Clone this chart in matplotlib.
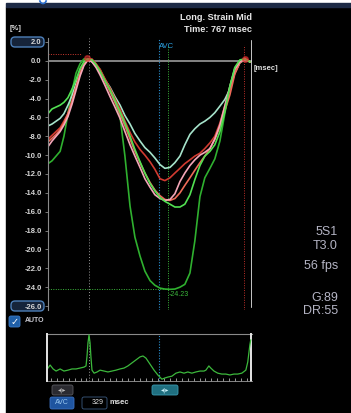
import numpy as np
import matplotlib
matplotlib.use('Agg')
import matplotlib.pyplot as plt
from matplotlib.patches import Rectangle, FancyBboxPatch, Arc
from matplotlib.transforms import IdentityTransform

plt.rcParams['font.family'] = ['Liberation Sans', 'DejaVu Sans']

W, H = 351, 413

# time grid (msec, R wave at 0)
t = [-193, -174, -155, -136, -118, -99, -80, -61, -42, -24, -5, 14, 33, 52,
     75, 99, 122, 146, 169, 193, 216, 240, 263, 287, 310, 334, 357, 381, 404,
     428, 451, 475, 498, 522, 545, 569, 592, 616, 639, 663, 686, 710, 733, 757]

# segment strain curves (%)
cyan = [-6.9, -6.7, -6.4, -6.1, -5.6, -4.7, -3.7, -2.4, -1.1, -0.3, 0.1, -0.1, -0.6, -1.2,
        -2.0, -2.8, -3.8, -4.7, -5.8, -6.7, -7.7, -8.5, -9.2, -9.7, -10.3, -11.0, -11.4, -11.3,
        -10.8, -10.1, -8.9, -7.8, -7.2, -6.7, -6.4, -6.0, -5.5, -4.8, -4.1, -3.0, -1.3, -0.2, 0.1, -0.1]
red = [-8.3, -7.9, -7.5, -7.1, -6.4, -5.6, -4.3, -2.8, -1.3, -0.3, 0.2, 0.2, -0.3, -0.9,
       -1.9, -2.9, -4.0, -5.1, -6.4, -7.6, -8.6, -9.4, -10.0, -10.7, -11.5, -12.5, -12.7, -12.4,
       -11.9, -11.4, -10.9, -10.5, -10.1, -9.8, -9.3, -8.7, -8.0, -6.6, -4.8, -3.0, -1.1, -0.1, 0.3, -0.1]
pink = [-9.1, -8.5, -8.0, -7.5, -6.8, -5.9, -4.6, -3.1, -1.6, -0.5, 0.1, -0.1, -0.7, -1.5,
        -2.6, -3.8, -4.9, -6.1, -7.5, -8.9, -10.1, -11.3, -12.5, -13.4, -14.2, -14.6, -14.8, -14.7,
        -14.1, -12.8, -11.9, -11.1, -10.5, -10.0, -9.7, -9.3, -8.3, -6.8, -4.8, -2.7, -0.9, -0.1, 0.2, -0.1]
salmon = [-8.6, -8.2, -7.8, -7.3, -6.6, -5.6, -4.3, -2.8, -1.4, -0.4, 0.1, 0.0, -0.5, -1.2,
          -2.2, -3.3, -4.4, -5.6, -6.9, -8.3, -9.6, -10.8, -11.9, -12.9, -13.7, -14.3, -14.7, -14.8,
          -14.6, -14.0, -13.2, -12.4, -11.6, -10.8, -10.1, -9.3, -8.3, -7.0, -5.3, -3.6, -1.4, -0.2, 0.2, -0.1]
lgreen = [-5.6, -5.1, -4.9, -4.7, -4.4, -3.9, -3.0, -2.0, -0.8, -0.1, 0.2, 0.1, -0.4, -1.1,
          -2.1, -3.1, -4.2, -5.4, -6.6, -8.0, -9.4, -10.7, -11.9, -13.0, -13.8, -14.5, -14.9, -15.2,
          -15.5, -15.5, -15.2, -14.2, -12.6, -11.1, -10.1, -9.6, -8.9, -7.5, -5.4, -2.7, -0.7, 0.1, 0.2, -0.1]
dgreen = [-10.9, -10.6, -10.1, -9.6, -8.0, -5.6, -3.2, -1.3, -0.3, 0.2, 0.2, -0.1, -0.5, -0.9,
          -2.0, -3.0, -4.3, -5.9, -10.1, -15.4, -18.7, -20.7, -22.3, -23.3, -23.8, -24.1, -24.2, -24.23,
          -24.2, -24.0, -23.7, -22.5, -19.1, -14.4, -12.4, -11.4, -10.4, -8.5, -5.6, -2.7, -0.8, -0.1, 0.2, -0.1]

peak_val = -24.23
avc_ms = 329
green_mark_ms = 371
red_mark_ms = 728
t_end = 767
yticks = [2, 0, -2, -4, -6, -8, -10, -12, -14, -16, -18, -20, -22, -24, -26]

# ECG
ecg_t = [-193, -183, -169, -155, -136, -118, -99, -80, -61, -42, -24, -14, -9, -5, 0, 5, 9, 14,
         24, 38, 52, 71, 89, 108, 127, 146, 165, 183, 202, 221, 240, 254, 268, 287, 306, 324,
         343, 357, 371, 390, 409, 428, 447, 465, 484, 503, 522, 541, 550, 564, 573, 588, 606,
         625, 644, 663, 682, 700, 719, 738, 747, 757, 761]
ecg_v = [0.10, 0.20, 0.07, 0.0, 0.07, 0.0, 0.03, 0.07, 0.07, 0.10, 0.13, 0.17, 0.53, 0.93, 1.20, 0.93,
         0.47, 0.03, -0.07, -0.03, 0.03, 0.0, -0.03, 0.0, 0.03, 0.07, 0.10, 0.17, 0.27, 0.37, 0.47,
         0.50, 0.43, 0.23, 0.03, -0.13, -0.27, -0.23, -0.20, -0.17, -0.07, -0.03, -0.07, -0.03,
         -0.07, -0.03, 0.0, 0.0, 0.03, 0.17, 0.10, 0.0, -0.07, -0.10, -0.10, -0.13, -0.10, -0.10,
         -0.07, 0.03, 0.30, 0.87, 1.03]

fig = plt.figure(figsize=(W / 100, H / 100), dpi=100)
fig.patch.set_facecolor('white')
pix = IdentityTransform()

def P(x, y):
    return (x, H - y)

# screen background
fig.add_artist(Rectangle(P(6, H), W - 6, H - 7, transform=pix, color='black', zorder=-3))
fig.add_artist(Rectangle(P(6, 7), W - 6, 4, transform=pix, color='#1d2a45', zorder=-2))
fig.add_artist(Arc(P(43, -1), 7, 9, theta1=200, theta2=340, transform=pix,
                   color='#2a6fd0', lw=1.2, zorder=-2))

# ── strain panel ──
ax = fig.add_axes([48 / W, 1 - 309.8 / H, 204 / W, 271.6 / H])
ax.set_facecolor('none')
ax.set_xlim(-193, 767)
ax.set_ylim(-26.4, 2.4)
for s in ['top', 'right', 'bottom']:
    ax.spines[s].set_visible(False)
ax.spines['left'].set_color('#8a8a8a')
ax.spines['left'].set_linewidth(0.8)
ax.set_xticks([])
ax.set_yticks(yticks)
ax.set_yticklabels([f'{v:.1f}' for v in yticks])
ax.tick_params(axis='y', colors='#8a8a8a', labelcolor='#d6d6d6', labelsize=5.5,
               length=2.5, width=0.6, pad=2)
for lab in ax.get_yticklabels():
    lab.set_fontweight('bold')

ax.axhline(0, color='#a8a8a8', lw=1.1, zorder=1)
ax.axvline(0, color='#9a9a9a', lw=0.7, ls=(0, (1, 2)), zorder=1)
ax.axvline(avc_ms, color='#2a8fd0', lw=0.8, ls=(0, (1, 1.5)), zorder=1)
ax.axvline(green_mark_ms, color='#3cb83c', lw=0.7, ls=(0, (1, 1.5)), ymax=0.975, zorder=1)
ax.axvline(red_mark_ms, color='#c0302a', lw=0.7, ls=(0, (1, 1.5)), ymax=0.975, zorder=1)
ax.axvline(t_end, color='#e6e6e6', lw=1.2, ymin=0.01, ymax=0.99, zorder=1)
ax.plot([-193, green_mark_ms], [peak_val, peak_val], color='#3cb83c', lw=0.7, ls=(0, (1, 1.5)))
ax.plot([-193, -40], [0.7, 0.7], color='#d03a30', lw=0.7, ls=(0, (1, 1.5)))

ax.plot(t, dgreen, color='#2fb02f', lw=1.2)
ax.plot(t, cyan, color='#a6e3cb', lw=1.2)
ax.plot(t, red, color='#d13a30', lw=1.2)
ax.plot(t, salmon, color='#ee6a58', lw=1.2)
ax.plot(t, pink, color='#f4a6b8', lw=1.2)
ax.plot(t, lgreen, color='#52e052', lw=1.2)
ax.plot([-10, 735], [0.3, 0.2], 'o', color='#e03030', ms=4, alpha=0.6)

ax.text(green_mark_ms + 5, peak_val - 0.2, f'{peak_val:.2f}', color='#3cb83c',
        fontsize=5, va='top', ha='left')

# boxed axis limits
for yy in [37, 301]:
    fig.add_artist(FancyBboxPatch(P(11, yy + 10), 33, 10, transform=pix,
                                  boxstyle='round,pad=0,rounding_size=4',
                                  fc='#16243a', ec='#4d7fb8', lw=1.0, zorder=-1))

fig.text(10, H - 28, '[%]', transform=pix, color='#e0e0e0', fontsize=5.5,
         fontweight='bold', va='center')
fig.text(252, H - 17, 'Long. Strain Mid', transform=pix, color='#e6e6e6', fontsize=6.6,
         fontweight='bold', ha='right', va='center')
fig.text(252, H - 29, 'Time: 767 msec', transform=pix, color='#e6e6e6', fontsize=6.6,
         fontweight='bold', ha='right', va='center')
fig.text(159, H - 47, 'AVC', transform=pix, color='#2a9fe0', fontsize=5.5, va='center')
fig.text(254, H - 68, '[msec]', transform=pix, color='#e0e0e0', fontsize=5.5,
         fontweight='bold', va='center')

for txt, yy in [('5S1', 232), ('T3.0', 246), ('56 fps', 266), ('G:89', 298), ('DR:55', 311)]:
    fig.text(338, H - yy, txt, transform=pix, color='#b4b4c4', fontsize=9,
             ha='right', va='center')

# AUTO checkbox
fig.add_artist(FancyBboxPatch(P(9, 327), 11, 11, transform=pix,
                              boxstyle='round,pad=0,rounding_size=2',
                              fc='#1f5fa8', ec='#3c7cc8', lw=0.6, zorder=-1))
fig.text(14.5, H - 321.5, '✓', transform=pix, color='white', fontsize=7,
         ha='center', va='center', family=['DejaVu Sans'])
fig.text(25, H - 321, 'AUTO', transform=pix, color='#c8c8d0', fontsize=5, va='center',
         fontweight='bold')

# ── ECG panel ──
ex = fig.add_axes([48 / W, 1 - 381 / H, 204 / W, 47 / H])
ex.set_facecolor('none')
ex.set_xlim(-193, 767)
ex.set_ylim(-0.33, 1.23)
for s in ['top', 'right', 'left']:
    ex.spines[s].set_visible(False)
ex.spines['bottom'].set_color('#9a9a9a')
ex.spines['bottom'].set_linewidth(0.6)
ex.set_yticks([])
ex.set_xticks(np.arange(-180, 767, 28))
ex.set_xticklabels([])
ex.tick_params(axis='x', direction='in', length=2, width=0.6, colors='#b0b0b0')
ex.axhline(1.23, color='#8a8a8a', lw=0.8, clip_on=False)
ex.axvline(-196, color='#e6e6e6', lw=1.4, clip_on=False)
ex.axvline(762, color='#e6e6e6', lw=1.4, clip_on=False)
ex.axvline(0, color='#9a9a9a', lw=0.7, ls=(0, (1, 2)))
ex.axvline(avc_ms, color='#2a8fd0', lw=0.8, ls=(0, (1, 1.5)))
ex.plot(ecg_t, ecg_v, color='#3cb83c', lw=0.9)

# buttons under ECG
fig.add_artist(FancyBboxPatch(P(52, 395), 21, 10, transform=pix,
                              boxstyle='round,pad=0,rounding_size=2',
                              fc='#2a2a30', ec='#5a5a60', lw=0.6, zorder=-1))
fig.text(62.5, H - 390, '◂|▸', transform=pix, color='#c0c0c0', fontsize=4.5,
         ha='center', va='center', family=['DejaVu Sans'])
fig.add_artist(FancyBboxPatch(P(152, 395), 26, 10, transform=pix,
                              boxstyle='round,pad=0,rounding_size=2',
                              fc='#1f6f80', ec='#3a9ab0', lw=0.6, zorder=-1))
fig.text(165, H - 390, '◂|▸', transform=pix, color='#c8f0f8', fontsize=4.5,
         ha='center', va='center', family=['DejaVu Sans'])
fig.add_artist(FancyBboxPatch(P(50, 409), 24, 12, transform=pix,
                              boxstyle='round,pad=0,rounding_size=2',
                              fc='#1f55a0', ec='#3a70c0', lw=0.6, zorder=-1))
fig.text(62, H - 403, 'AVC', transform=pix, color='#9ac8f0', fontsize=5,
         ha='center', va='center')
fig.add_artist(FancyBboxPatch(P(82, 409), 25, 12, transform=pix,
                              boxstyle='round,pad=0,rounding_size=2',
                              fc='black', ec='#3a5a80', lw=0.6, zorder=-1))
fig.text(104, H - 403, str(avc_ms), transform=pix, color='#e0e0e0', fontsize=5,
         ha='right', va='center')
fig.text(110, H - 403, 'msec', transform=pix, color='#e0e0e0', fontsize=5.5,
         fontweight='bold', va='center')

fig.savefig('out.png', dpi=100, facecolor='white')
